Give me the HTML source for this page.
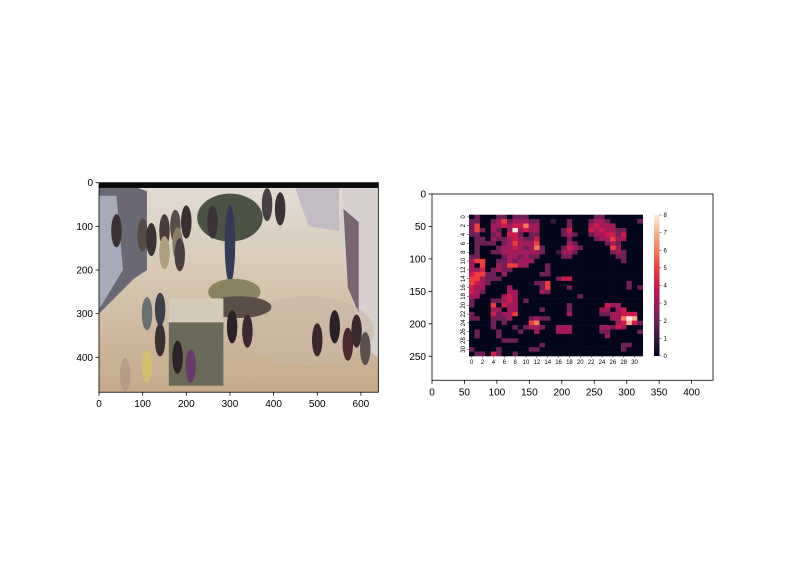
<!DOCTYPE html>
<html><head><meta charset="utf-8"><style>
body{margin:0;background:#fff;}
svg{display:block;font-family:"Liberation Sans","DejaVu Sans",sans-serif;}
</style></head><body>
<svg id="fig" width="792" height="576" viewBox="0 0 792 576" xmlns="http://www.w3.org/2000/svg">
<defs>
<clipPath id="photoClip"><rect x="0" y="0" width="640" height="480"/></clipPath>
<linearGradient id="floorG" x1="0" y1="0" x2="0" y2="1">
<stop offset="0" stop-color="#e2ddd6"/><stop offset="0.4" stop-color="#d8cab6"/><stop offset="1" stop-color="#c4aa8a"/></linearGradient>
<linearGradient id="cbG" x1="0" y1="1" x2="0" y2="0">
<stop offset="0" stop-color="#03051a"/><stop offset="0.125" stop-color="#35193e"/><stop offset="0.25" stop-color="#701f57"/><stop offset="0.375" stop-color="#a11a5b"/><stop offset="0.5" stop-color="#cb1b4f"/><stop offset="0.625" stop-color="#ed3d3d"/><stop offset="0.75" stop-color="#f47d58"/><stop offset="0.875" stop-color="#f6b48e"/><stop offset="1" stop-color="#faebdd"/></linearGradient>
</defs>
<g id="photoAx"></g>
<g id="heatAx"></g>
</svg>
<script>
const NS="http://www.w3.org/2000/svg";
const photoXTicks=[0,100,200,300,400,500,600];
const photoYTicks=[0,100,200,300,400];
const rightXTicks=[0,50,100,150,200,250,300,350,400];
const rightYTicks=[0,50,100,150,200,250];
const heatTickLabels=[0,2,4,6,8,10,12,14,16,18,20,22,24,26,28,30];
const cbTicks=[0,1,2,3,4,5,6,7,8];
const heatRows=[
"02000220222000000000000220000000",
"22002352333220010020002332000002",
"25003343446330000020003433300000",
"25203203834330000240004343322000",
"22002304420220000232002334424000",
"02203223432240000020000233533000",
"02222023533350000032000002320000",
"02000233432362000243200000530000",
"02002233333332001332000000232000",
"22000023323220000220000000022000",
"35500223233300000000000000002000",
"30500325533000200000000000000000",
"33402322000000200000000000000000",
"45522030000002200000000000000000",
"55322200000000002440000000000000",
"54320000000022500000000000000200",
"43300003000002500020000000000202",
"43200003300003200000000000000000",
"33000034300000000000200000000000",
"20002234302000000000000000000000",
"20005043300000000020000004330000",
"00003303300002000020000033034000",
"20004233500000000030000022334440",
"22002223000232200000000000336870",
"00002020000560000000000000034742",
"00002000202332003330000033243000",
"02000200020030003330000022000002",
"02000200000000000000000003000000",
"00000022200000000000000000000000",
"00000000000002000000000000002200",
"20000200000220000000000000002000",
"02204200200000000000000000000000"];
const stops=["#03051a","#35193e","#701f57","#a11a5b","#cb1b4f","#ed3d3d","#f47d58","#f6b48e","#faebdd"];
function mk(t,a,p){const e=document.createElementNS(NS,t);for(const k in a)e.setAttribute(k,a[k]);(p||document.getElementById('fig')).appendChild(e);return e;}
function txt(x,y,s,sz,anchor,p,rot){const e=mk('text',{x:x,y:y,'font-size':sz,'text-anchor':anchor,fill:'#000'},p);if(rot)e.setAttribute('transform','rotate(-90 '+x+' '+y+')');e.textContent=s;return e;}

const P={x0:99,y0:182.7,s:0.4365};
const px=v=>P.x0+v*P.s, py=v=>P.y0+v*P.s;
const pA=document.getElementById('photoAx');
const img=mk('g',{transform:'translate('+P.x0+','+P.y0+') scale('+P.s+')','clip-path':'url(#photoClip)'},pA);


mk('rect',{x:0,y:0,width:640,height:480,fill:'url(#floorG)'},img);
mk('rect',{x:0,y:0,width:640,height:12,fill:'#0a0a0a'},img);
mk('polygon',{points:'0,12 90,12 110,20 110,200 80,220 0,300',fill:'#6a6874'},img);
mk('polygon',{points:'0,30 40,30 55,200 0,290',fill:'#a6aabb'},img);
mk('polygon',{points:'560,12 640,12 640,400 610,380 570,230 550,100',fill:'#d6d1ce'},img);
mk('polygon',{points:'560,60 595,90 595,300 570,240',fill:'#7a6470'},img);
mk('polygon',{points:'450,12 550,12 550,110 480,100',fill:'#c4bcc4'},img);
mk('ellipse',{cx:480,cy:340,rx:150,ry:80,fill:'#c8b8a5',opacity:0.6},img);
mk('ellipse',{cx:300,cy:80,rx:75,ry:55,fill:'#4d5344'},img);
mk('ellipse',{cx:300,cy:140,rx:12,ry:90,fill:'#353a58'},img);
mk('ellipse',{cx:310,cy:250,rx:60,ry:30,fill:'#8a8462'},img);
mk('ellipse',{cx:320,cy:285,rx:75,ry:25,fill:'#5a4e46'},img);
mk('rect',{x:160,y:265,width:125,height:55,fill:'#d6cab9'},img);
mk('rect',{x:160,y:320,width:125,height:145,fill:'#6b6a58'},img);
const people=[[40,110,'#3a3036'],[100,120,'#554a48'],[120,130,'#3b3232'],[150,110,'#4a3c3c'],[175,100,'#5a4c48'],[200,90,'#3a3030'],[180,140,'#8a7a68'],[60,440,'#b49e8a'],[110,420,'#d0c070'],[140,360,'#3a3030'],[110,300,'#6a6f70'],[140,290,'#40404a'],[180,400,'#2a2226'],[210,420,'#6a3a6a'],[305,330,'#2a2226'],[340,340,'#3a2a30'],[500,360,'#3a2a2e'],[540,330,'#2a2226'],[570,370,'#4a2a2e'],[590,340,'#3a2a2e'],[610,380,'#5a5050'],[150,160,'#b0a080'],[185,165,'#4a4040'],[260,90,'#3a3236'],[385,50,'#4a4044'],[415,60,'#3a3236']];
people.forEach(p=>{const e=mk('ellipse',{cx:p[0],cy:p[1],rx:12,ry:38,fill:p[2]},img);
 });
mk('rect',{x:99,y:182.7,width:640*P.s,height:480*P.s,fill:'none',stroke:'#000','stroke-width':0.8},pA);
photoXTicks.forEach(v=>{mk('line',{x1:px(v),x2:px(v),y1:py(480),y2:py(480)+3.5,stroke:'#000','stroke-width':0.8},pA);
 const t=txt(px(v),py(480)+15,String(v),10,'middle',pA);});
photoYTicks.forEach(v=>{mk('line',{x1:P.x0-3.5,x2:P.x0,y1:py(v),y2:py(v),stroke:'#000','stroke-width':0.8},pA);
 const t=txt(P.x0-6,py(v)+3.5,String(v),10,'end',pA);});

const R={x0:432,y0:194,s:0.649,xmax:433,ymax:287};
const rx=v=>R.x0+v*R.s, ry=v=>R.y0+v*R.s;
const hA=document.getElementById('heatAx');
mk('rect',{x:R.x0,y:R.y0,width:R.xmax*R.s,height:R.ymax*R.s,fill:'#fff'},hA);
const H={x:469,y:214.7,w:173.7,h:141.3};
const nR=heatRows.length,nC=heatRows[0].length;
const cw=H.w/nC,ch=H.h/nR;
const hm=mk('g',{},hA);


heatRows.forEach((row,r)=>{for(let c=0;c<nC;c++){const v=+row[c];
 const cell=mk('rect',{x:H.x+c*cw,y:H.y+r*ch,width:cw+0.3,height:ch+0.3,fill:stops[v]},hm);
 
 }});
heatTickLabels.forEach(v=>{const x=H.x+(v+0.5)*cw,y=H.y+(v+0.5)*ch;
 mk('line',{x1:x,x2:x,y1:H.y+H.h,y2:H.y+H.h+2,stroke:'#333','stroke-width':0.5},hA);
 const a=txt(x,H.y+H.h+8,String(v),6,'middle',hA);
 mk('line',{x1:H.x-2,x2:H.x,y1:y,y2:y,stroke:'#333','stroke-width':0.5},hA);
 const b=txt(H.x-4,y,String(v),6,'middle',hA,true);});
const CB={x:654,y:215,w:5.5,h:141};
const cb=mk('rect',{x:CB.x,y:CB.y,width:CB.w,height:CB.h,fill:'url(#cbG)'},hA);


cbTicks.forEach(v=>{const y=CB.y+CB.h-v/8*CB.h;
 mk('line',{x1:CB.x+CB.w,x2:CB.x+CB.w+2,y1:y,y2:y,stroke:'#333','stroke-width':0.5},hA);
 const t=txt(CB.x+CB.w+4,y+2,String(v),6,'start',hA);});
mk('rect',{x:R.x0,y:R.y0,width:R.xmax*R.s,height:R.ymax*R.s,fill:'none',stroke:'#000','stroke-width':0.8},hA);
rightXTicks.forEach(v=>{mk('line',{x1:rx(v),x2:rx(v),y1:ry(R.ymax),y2:ry(R.ymax)+3.5,stroke:'#000','stroke-width':0.8},hA);
 const t=txt(rx(v),ry(R.ymax)+15,String(v),10,'middle',hA);});
rightYTicks.forEach(v=>{mk('line',{x1:R.x0-3.5,x2:R.x0,y1:ry(v),y2:ry(v),stroke:'#000','stroke-width':0.8},hA);
 const t=txt(R.x0-6,ry(v)+3.5,String(v),10,'end',hA);});
</script>
</body></html>
